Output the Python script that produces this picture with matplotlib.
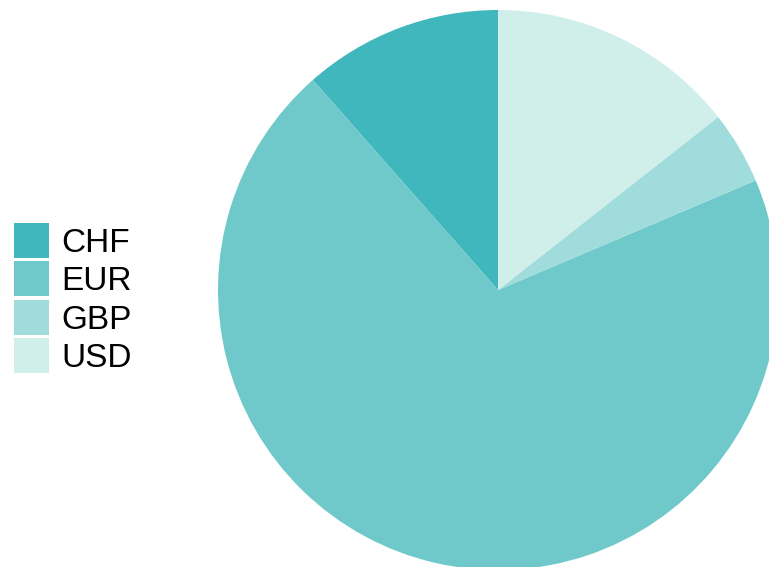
import matplotlib
matplotlib.use("Agg")
import matplotlib.pyplot as plt
from matplotlib.patches import Patch

# Currency split
currencies = ["CHF", "EUR", "GBP", "USD"]
shares = [11.5, 69.9, 4.2, 14.4]
colors = ["#40b7bd", "#6fc9cb", "#a1dcdc", "#d0eeea"]

plt.rcParams["font.family"] = ["Liberation Sans", "DejaVu Sans"]

W, H = 769, 567
fig = plt.figure(figsize=(W / 100, H / 100), dpi=100)

# Pie axes: 560 px square centred at (498, 290), partly cut off at the right
cx, cy, r = 498, 290, 280
ax = fig.add_axes([(cx - r) / W, (H - cy - r) / H, 2 * r / W, 2 * r / H])
ax.pie(shares, colors=colors, startangle=90, counterclock=True,
       radius=1.0, wedgeprops=dict(linewidth=0))
ax.set_xlim(-1, 1)
ax.set_ylim(-1, 1)
ax.set_aspect("equal")
ax.axis("off")

fs = 24
handles = [Patch(facecolor=c, edgecolor="none") for c in colors]
fig.legend(handles, currencies, loc="upper left",
           bbox_to_anchor=(14 / W, 1 - 223 / H),
           frameon=False, fontsize=fs, borderpad=0, borderaxespad=0,
           handlelength=1.05, handleheight=1.24, handletextpad=0.38,
           labelspacing=0.08)

fig.savefig("out.png", dpi=100)
